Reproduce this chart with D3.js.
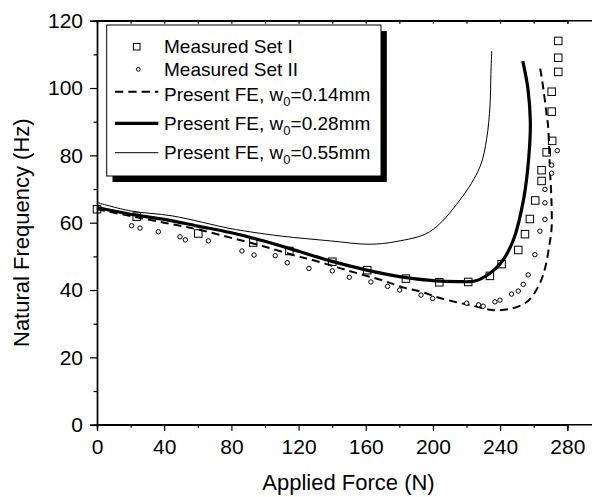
<!DOCTYPE html>
<html>
<head>
<meta charset="utf-8">
<script src="https://cdn.jsdelivr.net/npm/d3@7"></script>
<style>
  body { margin: 0; background: #fff; }
  svg { font-family: "Liberation Sans", Arial, sans-serif; }
</style>
</head>
<body>
<div id="chart"></div>
<script>
// Measured Set I (squares)
const setIForce = [0, 23.6, 60.3, 93, 114.5, 140.1, 160.9, 183.9, 203.8, 221, 233.9, 240.9, 250.8,
  254.8, 257.7, 260.9, 264.7, 264.7, 267.7, 271, 270.7, 270.7, 274.6, 274.6, 274.6]
const setIFreq = [64, 61.8, 56.8, 54.1, 51.6, 48.4, 45.9, 43.4, 42.3, 42.4, 44.2, 47.7, 51.9,
  56.6, 61.1, 66.6, 72.4, 75.6, 80.9, 84.3, 93, 98.9, 104.8, 109, 114]

// Measured Set II (circles)
const setIIForce = [20.6, 25.6, 36.5, 49.4, 52.6, 66.3, 86.3, 93.5, 106.1, 113.3, 126.2, 140.1, 150.2,
  163.1, 173, 180.2, 192.9, 199.8, 220.1, 227.2, 229.9, 236.9, 239.9, 246.8, 250.8, 253.8, 256.7,
  260.7, 263.7, 266.7, 266.7, 266.7, 270.7, 270.7, 274]
const setIIFreq = [59.1, 58.4, 57.3, 55.8, 54.9, 54.6, 51.6, 50.4, 50.2, 48.1, 46.4, 45.7, 43.8,
  42.4, 41.1, 40, 38.5, 37.5, 36.1, 35.6, 35.2, 36.5, 37, 38.8, 39.7, 41.7, 44.5,
  50.5, 57.5, 61, 65.9, 69.9, 74.7, 77.1, 81.4]

// Present FE, w0 = 0.14mm (dashed)
const fe014Force = [0, 20, 40, 60, 80, 99, 119, 130, 150, 171, 182, 193, 203, 214, 224, 235, 245,
  256, 262.7, 266.7, 269.2, 270.6, 270.6, 269.6, 268.6, 267.7, 265.7, 263.7]
const fe014Freq = [64, 62, 60, 58, 55.5, 53, 50.1, 48.7, 45.7, 42.7, 40.8, 39.5, 37.8, 36.4, 35.3, 34.1, 34.3,
  36.5, 41, 46.4, 53, 58, 66, 76.6, 88.5, 92, 100, 106.3]

// Present FE, w0 = 0.28mm (thick)
const fe028Force = [0, 20, 40, 60, 80, 100, 120, 140, 160, 180, 200, 215, 225, 234, 241, 248,
  254, 257, 258, 256.5, 253.5]
const fe028Freq = [64.5, 62.5, 61, 59, 57, 54.5, 51.5, 48.5, 46, 44, 42.8, 42.5, 42.7, 45, 48.4, 55,
  67, 79, 90, 100, 108]

// Present FE, w0 = 0.55mm (thin)
const fe055Force = [0, 20, 45, 79, 91, 110, 139, 162, 178, 198, 216, 228, 232, 234, 234.5, 235]
const fe055Freq = [66, 63.5, 62, 58.3, 57.3, 56, 54.6, 53.6, 54.4, 57.3, 66.7, 76.6, 85, 95, 104, 111]

const xTicks = [0, 40, 80, 120, 160, 200, 240, 280]
const yTicks = [0, 20, 40, 60, 80, 100, 120]

const width = 592,
      height = 497,
      plotLeft = 97,
      plotTop = 20.7,
      plotBottom = 424.7

const svg = d3.select('#chart')
  .append('svg')
  .attr('width', width)
  .attr('height', height)

const x = d3.scaleLinear().domain([0, 280]).range([plotLeft, 567.3])
const y = d3.scaleLinear().domain([0, 120]).range([plotBottom, plotTop])

const zip = (a, b) => a.map((v, i) => [v, b[i]])

// axes
const minorX = d3.range(20, 300, 40)
const minorY = d3.range(10, 120, 20)

svg.append('g')
  .attr('transform', `translate(0,${plotBottom})`)
  .call(d3.axisBottom(x).tickValues(minorX).tickSize(3).tickFormat(''))
svg.append('g')
  .attr('transform', `translate(0,${plotBottom})`)
  .call(d3.axisBottom(x).tickValues(xTicks).tickSize(6).tickPadding(8).tickFormat(d3.format('d')))

svg.append('g')
  .attr('transform', `translate(0,${plotTop})`)
  .call(d3.axisTop(x).tickValues(minorX.concat(xTicks)).tickSize(-3).tickFormat(''))

svg.append('g')
  .attr('transform', `translate(${plotLeft},0)`)
  .call(d3.axisLeft(y).tickValues(minorY).tickSize(3.5).tickFormat(''))
svg.append('g')
  .attr('transform', `translate(${plotLeft},0)`)
  .call(d3.axisLeft(y).tickValues(yTicks).tickSize(7).tickPadding(7).tickFormat(d3.format('d')))

svg.selectAll('.domain').attr('stroke-width', 1.4)
svg.selectAll('.tick line').attr('stroke-width', 1.2)
svg.selectAll('.tick text').attr('font-size', 21).attr('font-family', '"Liberation Sans", Arial, sans-serif').attr('fill', '#000')

// top and bottom frame lines run past the window edge (box clipped on the right)
svg.append('line').attr('x1', plotLeft).attr('x2', width).attr('y1', plotTop).attr('y2', plotTop)
  .attr('stroke', '#000').attr('stroke-width', 1.4)
svg.append('line').attr('x1', plotLeft).attr('x2', width).attr('y1', plotBottom).attr('y2', plotBottom)
  .attr('stroke', '#000').attr('stroke-width', 1.4)

// axis titles
svg.append('text')
  .attr('x', (plotLeft + width) / 2 + 4)
  .attr('y', 490)
  .attr('text-anchor', 'middle')
  .attr('font-size', 22)
  .text('Applied Force (N)')

svg.append('text')
  .attr('transform', `translate(29,${(plotTop + plotBottom) / 2 + 10}) rotate(-90)`)
  .attr('text-anchor', 'middle')
  .attr('font-size', 22)
  .text('Natural Frequency (Hz)')

// curves
const line = d3.line()
  .x(d => x(d[0]))
  .y(d => y(d[1]))
  .curve(d3.curveCatmullRom.alpha(0.5))

svg.append('path').datum(zip(fe055Force, fe055Freq))
  .attr('d', line).attr('fill', 'none').attr('stroke', '#000').attr('stroke-width', 1)
svg.append('path').datum(zip(fe014Force, fe014Freq))
  .attr('d', line).attr('fill', 'none').attr('stroke', '#000').attr('stroke-width', 2)
  .attr('stroke-dasharray', '8,5')
svg.append('path').datum(zip(fe028Force, fe028Freq))
  .attr('d', line).attr('fill', 'none').attr('stroke', '#000').attr('stroke-width', 3.2)

// markers
const sq = 7.5
svg.selectAll('.sq')
  .data(zip(setIForce, setIFreq))
  .enter()
  .append('rect')
  .attr('class', 'sq')
  .attr('x', d => x(d[0]) - sq / 2)
  .attr('y', d => y(d[1]) - sq / 2)
  .attr('width', sq)
  .attr('height', sq)
  .attr('fill', 'none')
  .attr('stroke', '#000')
  .attr('stroke-width', 1)

svg.selectAll('.circ')
  .data(zip(setIIForce, setIIFreq))
  .enter()
  .append('circle')
  .attr('class', 'circ')
  .attr('cx', d => x(d[0]))
  .attr('cy', d => y(d[1]))
  .attr('r', 2.2)
  .attr('fill', '#fff')
  .attr('stroke', '#000')
  .attr('stroke-width', 1)

// legend
const lg = svg.append('g')
lg.append('rect').attr('x', 112.5).attr('y', 31).attr('width', 274.3).attr('height', 151)
  .attr('fill', '#000')
lg.append('rect').attr('x', 106.7).attr('y', 25).attr('width', 274.3).attr('height', 151)
  .attr('fill', '#fff').attr('stroke', '#000').attr('stroke-width', 1)

const textX = 164
lg.append('rect').attr('x', 136.7 - 3.3).attr('y', 46.7 - 3.3).attr('width', 6.6).attr('height', 6.6)
  .attr('fill', 'none').attr('stroke', '#000')
lg.append('text').attr('x', textX).attr('y', 53.3).attr('font-size', 19).text('Measured Set I')

lg.append('circle').attr('cx', 138.3).attr('cy', 69.3).attr('r', 1.9)
  .attr('fill', '#fff').attr('stroke', '#000')
lg.append('text').attr('x', textX).attr('y', 75.7).attr('font-size', 19).text('Measured Set II')

const legendLines = [
  { y: 91.7, w: 2, dash: '8.3,5', label: '0.14mm', base: 100.7 },
  { y: 123.3, w: 3.2, dash: null, label: '0.28mm', base: 130 },
  { y: 152.7, w: 1, dash: null, label: '0.55mm', base: 159 }
]
legendLines.forEach(l => {
  lg.append('line').attr('x1', 115).attr('x2', 158.3).attr('y1', l.y).attr('y2', l.y)
    .attr('stroke', '#000').attr('stroke-width', l.w).attr('stroke-dasharray', l.dash)
  const t = lg.append('text').attr('x', textX).attr('y', l.base).attr('font-size', 19)
  t.append('tspan').text('Present FE, w')
  t.append('tspan').attr('font-size', 13).attr('dy', 5).text('0')
  t.append('tspan').attr('dy', -5).text('=' + l.label)
})
</script>
</body>
</html>
